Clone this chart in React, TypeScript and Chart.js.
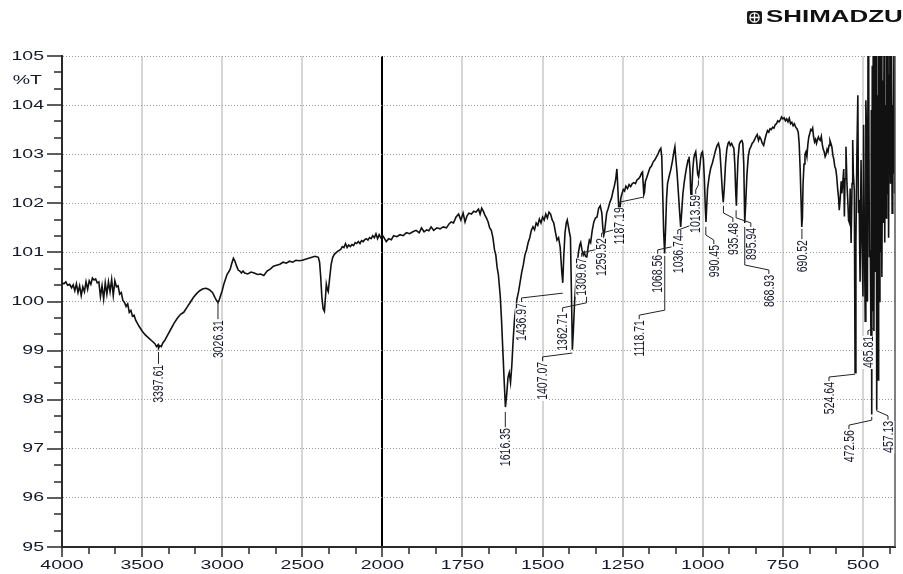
import React, { useEffect, useRef } from 'react';
import { Chart, registerables, LinearScale } from 'chart.js';

// ---------- DATA ----------
// [wavenumber (1/cm), %T]
const spectrum4000to2000: [number, number][] = [
  [4000, 100.38], [3988, 100.36], [3976, 100.40], [3965, 100.33], [3952, 100.35], [3940, 100.28],
  [3930, 100.34], [3920, 100.22], [3910, 100.36], [3900, 100.18], [3890, 100.32], [3880, 100.12],
  [3870, 100.30], [3860, 100.20], [3850, 100.40], [3840, 100.25], [3830, 100.42], [3820, 100.35],
  [3810, 100.48], [3800, 100.44], [3790, 100.46], [3780, 100.38], [3770, 100.40], [3760, 100.10],
  [3750, 100.32], [3740, 100.05], [3730, 100.38], [3720, 100.15], [3710, 100.40], [3700, 100.20],
  [3690, 100.45], [3680, 100.12], [3670, 100.42], [3660, 100.30], [3650, 100.32], [3640, 100.15],
  [3630, 100.18], [3620, 100.02], [3610, 99.98], [3600, 99.90], [3590, 99.95], [3580, 99.78],
  [3570, 99.82], [3560, 99.70], [3550, 99.72], [3540, 99.62], [3520, 99.50], [3500, 99.40],
  [3480, 99.32], [3460, 99.26], [3440, 99.20], [3420, 99.14], [3410, 99.08], [3400, 99.12],
  [3397, 99.05], [3390, 99.10], [3380, 99.08], [3370, 99.16], [3360, 99.20], [3340, 99.32],
  [3320, 99.44], [3300, 99.56], [3280, 99.66], [3260, 99.74], [3240, 99.78], [3220, 99.88],
  [3200, 99.98], [3180, 100.08], [3160, 100.16], [3140, 100.22], [3120, 100.26], [3100, 100.27],
  [3080, 100.24], [3060, 100.18], [3045, 100.08], [3035, 100.02], [3026, 99.98], [3018, 100.04],
  [3010, 100.12], [3000, 100.22], [2990, 100.35], [2980, 100.45], [2970, 100.55], [2960, 100.60],
  [2950, 100.66], [2940, 100.78], [2930, 100.88], [2920, 100.82], [2910, 100.72], [2900, 100.64],
  [2890, 100.62], [2880, 100.58], [2870, 100.62], [2860, 100.58], [2840, 100.56], [2820, 100.60],
  [2800, 100.58], [2780, 100.55], [2760, 100.56], [2740, 100.53], [2720, 100.62], [2700, 100.66],
  [2680, 100.72], [2660, 100.74], [2640, 100.76], [2620, 100.80], [2600, 100.78], [2580, 100.82],
  [2560, 100.80], [2540, 100.84], [2520, 100.83], [2500, 100.84], [2480, 100.86], [2460, 100.88],
  [2440, 100.90], [2420, 100.92], [2400, 100.90], [2392, 100.80], [2385, 100.50], [2378, 100.10],
  [2370, 99.85], [2362, 99.80], [2356, 100.05], [2350, 100.35], [2344, 100.25], [2338, 100.20],
  [2330, 100.45], [2320, 100.75], [2310, 100.90], [2300, 100.96], [2280, 101.02], [2260, 101.06],
  [2250, 101.12], [2240, 101.10], [2230, 101.18], [2220, 101.10], [2210, 101.15], [2200, 101.12],
  [2190, 101.16], [2180, 101.14], [2170, 101.20], [2160, 101.18], [2150, 101.22], [2140, 101.18],
  [2130, 101.24], [2120, 101.22], [2110, 101.26], [2100, 101.28], [2090, 101.25], [2080, 101.30],
  [2070, 101.28], [2060, 101.34], [2050, 101.30], [2040, 101.38], [2030, 101.28], [2020, 101.36],
  [2010, 101.30], [2000, 101.35],
];

const spectrum2000to1000: [number, number][] = [
  [1995, 101.30], [1988, 101.22], [1980, 101.28], [1972, 101.26], [1965, 101.34], [1955, 101.32],
  [1945, 101.36], [1935, 101.34], [1925, 101.40], [1915, 101.38], [1905, 101.42], [1895, 101.45],
  [1885, 101.40], [1878, 101.50], [1870, 101.42], [1862, 101.46], [1855, 101.44], [1848, 101.52],
  [1840, 101.45], [1830, 101.50], [1820, 101.48], [1810, 101.52], [1800, 101.50], [1792, 101.58],
  [1785, 101.62], [1778, 101.60], [1770, 101.72], [1762, 101.78], [1755, 101.66], [1748, 101.80],
  [1742, 101.62], [1736, 101.74], [1730, 101.80], [1722, 101.78], [1715, 101.84], [1708, 101.82],
  [1700, 101.88], [1695, 101.78], [1690, 101.90], [1685, 101.84], [1680, 101.76], [1675, 101.70],
  [1670, 101.62], [1665, 101.50], [1660, 101.45], [1655, 101.30], [1650, 101.05], [1646, 100.95],
  [1642, 100.70], [1638, 100.55], [1632, 100.10], [1628, 99.60], [1624, 99.00], [1620, 98.40],
  [1616, 97.85], [1612, 98.10], [1608, 98.45], [1604, 98.55], [1600, 98.35], [1596, 98.70],
  [1592, 99.20], [1588, 99.60], [1584, 99.85], [1580, 100.05], [1575, 100.20], [1570, 100.40],
  [1565, 100.60], [1560, 100.75], [1555, 100.95], [1550, 101.05], [1545, 101.20], [1540, 101.30],
  [1535, 101.45], [1530, 101.52], [1525, 101.46], [1520, 101.60], [1515, 101.55], [1510, 101.68],
  [1505, 101.60], [1500, 101.72], [1495, 101.66], [1490, 101.78], [1485, 101.70], [1480, 101.82],
  [1475, 101.78], [1470, 101.66], [1465, 101.60], [1460, 101.42], [1455, 101.25], [1450, 101.30],
  [1445, 101.10], [1440, 100.60], [1437, 100.38], [1434, 100.90], [1430, 101.40], [1426, 101.60],
  [1423, 101.66], [1420, 101.55], [1416, 101.40], [1413, 101.30], [1410, 100.20], [1407, 99.02],
  [1404, 99.40], [1400, 100.00], [1397, 100.30], [1393, 100.70], [1388, 101.00], [1384, 101.15],
  [1381, 101.20], [1377, 101.05], [1373, 100.95], [1370, 101.00], [1366, 100.92], [1362, 100.90],
  [1358, 101.10], [1354, 101.25], [1350, 101.20], [1345, 101.45], [1340, 101.62], [1335, 101.70],
  [1330, 101.72], [1325, 101.90], [1320, 101.95], [1315, 101.80], [1312, 101.50], [1309, 101.35],
  [1306, 101.45], [1300, 101.80], [1295, 101.90], [1290, 102.02], [1285, 102.10], [1280, 102.25],
  [1276, 102.35], [1272, 102.48], [1268, 102.70], [1265, 102.30], [1262, 101.85], [1259, 101.80],
  [1256, 102.10], [1252, 102.20], [1248, 102.28], [1244, 102.25], [1240, 102.35], [1235, 102.30],
  [1230, 102.38], [1225, 102.34], [1220, 102.40], [1215, 102.42], [1210, 102.40], [1205, 102.48],
  [1200, 102.50], [1195, 102.55], [1191, 102.62], [1188, 102.64], [1186, 102.40], [1184, 102.18],
  [1182, 102.22], [1179, 102.45], [1175, 102.52], [1170, 102.62], [1165, 102.72], [1160, 102.76],
  [1155, 102.84], [1150, 102.88], [1145, 102.94], [1140, 103.00], [1135, 103.08], [1131, 103.12],
  [1128, 102.95], [1125, 102.20], [1122, 101.40], [1119, 100.98], [1116, 101.50], [1113, 102.10],
  [1110, 102.40], [1105, 102.55], [1100, 102.68], [1095, 102.85], [1090, 103.05], [1087, 103.15],
  [1084, 102.90], [1080, 102.60], [1076, 102.20], [1072, 101.80], [1069, 101.52], [1066, 101.80],
  [1062, 102.20], [1058, 102.42], [1054, 102.60], [1050, 102.75], [1046, 102.88], [1043, 102.95],
  [1040, 102.70], [1038, 102.30], [1036, 102.07], [1034, 102.30], [1031, 102.70], [1028, 102.92],
  [1025, 103.00], [1022, 103.05], [1019, 102.85], [1016, 102.60], [1013, 102.54], [1010, 102.70],
  [1007, 102.90], [1004, 103.02], [1001, 103.05],
];

const spectrum1000to400: [number, number][] = [
  [998, 102.90], [995, 102.50], [992, 101.90], [990, 101.62], [988, 101.90], [985, 102.30],
  [980, 102.55], [975, 102.72], [970, 102.82], [965, 102.95], [960, 103.08], [955, 103.18],
  [951, 103.22], [947, 103.10], [943, 102.70], [939, 102.25], [936, 102.02], [933, 102.30],
  [929, 102.80], [925, 103.10], [921, 103.22], [918, 103.25], [914, 103.18], [910, 103.22],
  [906, 103.16], [903, 103.12], [900, 102.80], [897, 102.20], [895, 101.95], [893, 102.40],
  [890, 102.90], [886, 103.20], [882, 103.26], [878, 103.28], [875, 103.22], [872, 102.80],
  [869, 101.60], [866, 102.00], [862, 102.60], [858, 102.95], [854, 103.10], [850, 103.15],
  [846, 103.22], [842, 103.25], [838, 103.30], [834, 103.36], [830, 103.40], [826, 103.28],
  [822, 103.35], [818, 103.30], [814, 103.22], [810, 103.18], [806, 103.30], [802, 103.40],
  [798, 103.48], [794, 103.45], [790, 103.52], [786, 103.50], [782, 103.55], [778, 103.53],
  [774, 103.60], [770, 103.62], [766, 103.68], [762, 103.66], [758, 103.70], [754, 103.76],
  [750, 103.72], [746, 103.74], [742, 103.68], [738, 103.72], [734, 103.66], [730, 103.73],
  [726, 103.62], [722, 103.65], [718, 103.58], [714, 103.62], [710, 103.55], [706, 103.52],
  [702, 103.45], [699, 103.20], [696, 102.70], [693, 102.00], [691, 101.52], [689, 101.70],
  [687, 102.40], [684, 102.80], [681, 103.00], [678, 103.05], [675, 102.95], [672, 103.20],
  [669, 103.35], [666, 103.42], [663, 103.50], [660, 103.48], [657, 103.53], [654, 103.35],
  [651, 103.25], [648, 103.30], [645, 103.22], [642, 103.30], [639, 103.35], [636, 103.30],
  [633, 103.28], [630, 103.36], [627, 103.20], [624, 103.10], [621, 103.05], [618, 102.95],
  [615, 103.00], [612, 103.10], [609, 103.05], [606, 103.18], [603, 103.28], [600, 103.22],
  [597, 103.15], [594, 102.98], [591, 102.90], [588, 102.75], [585, 102.70], [582, 102.55],
  [579, 102.30], [576, 102.10], [574, 101.86], [571, 102.10], [568, 102.45], [566, 102.20],
  [563, 102.41], [560, 102.70], [558, 101.73], [556, 102.50], [553, 103.15], [550, 102.40],
  [547, 102.00], [545, 101.66], [542, 101.60], [540, 102.30], [537, 101.19], [534, 102.40],
  [532, 103.29], [530, 102.60], [527, 102.27], [524.6, 98.55], [522, 101.20], [519, 103.00],
  [516, 104.20], [514, 101.80], [512, 102.07], [509, 100.40], [506, 102.88], [503, 101.20],
  [500, 100.10], [498, 103.60], [496, 101.73], [493, 99.60], [491, 104.10], [489, 103.49],
  [486, 100.00], [484, 105.80], [482, 104.58], [480, 100.90], [477, 101.05], [475, 99.20],
  [474, 103.90], [472.6, 97.70], [471, 104.80], [469, 99.80], [468, 105.60], [465.8, 99.40],
  [463, 105.80], [461, 100.60], [459, 105.80], [457.1, 97.80], [455, 104.20], [453, 98.40],
  [451, 105.80], [449, 100.00], [447, 105.80], [445, 101.00], [443, 105.20], [441, 100.50],
  [438, 104.50], [436, 101.60], [434, 105.80], [432, 101.20], [430, 104.00], [428, 101.70],
  [426, 105.80], [424, 102.20], [422, 105.80], [420, 101.30], [418, 104.60], [416, 105.80],
  [414, 102.40], [411, 105.80], [409, 101.80], [407, 104.00], [405, 102.60], [403, 105.80],
  [401, 102.20], [400, 105.80],
];

const xMajorTicks = [4000, 3500, 3000, 2500, 2000, 1750, 1500, 1250, 1000, 750, 500];
const xMinorTicks = [
  3833.33, 3666.67, 3333.33, 3166.67, 2833.33, 2666.67, 2333.33, 2166.67,
  1916.67, 1833.33, 1666.67, 1583.33, 1416.67, 1333.33, 1166.67, 1083.33,
  916.67, 833.33, 666.67, 583.33, 416.67,
];
const yMajorTicks = [95, 96, 97, 98, 99, 100, 101, 102, 103, 104, 105];

// Peak annotations
const peakLabels = [
  '3397.61', '3026.31', '1616.35', '1436.97', '1407.07', '1362.71', '1309.67', '1259.52',
  '1187.19', '1118.71', '1068.56', '1036.74', '1013.59', '990.45', '935.48', '895.94',
  '868.93', '690.52', '524.64', '472.56', '465.81', '457.13',
];
const peakWavenumbers = [
  3397.61, 3026.31, 1616.35, 1436.97, 1407.07, 1362.71, 1309.67, 1259.52,
  1187.19, 1118.71, 1068.56, 1036.74, 1013.59, 990.45, 935.48, 895.94,
  868.93, 690.52, 524.64, 472.56, 465.81, 457.13,
];
const peakTipT = [
  98.97, 99.97, 97.75, 100.17, 98.95, 100.80, 101.25, 101.74,
  102.13, 100.93, 101.46, 102.0, 102.47, 101.52, 101.95, 101.86,
  101.52, 101.48, 98.52, 97.65, 99.46, 97.83,
];
const labelWavenumbers = [
  3397.61, 3026.31, 1616.35, 1565.6, 1500, 1437.5, 1378, 1315.6,
  1260.9, 1198.4, 1140.6, 1078, 1021.9, 965.6, 906, 850,
  793.75, 690.52, 606, 543.75, 484.4, 421.9,
];
const labelTopT = [
  98.71, 99.62, 97.42, 99.97, 98.77, 99.77, 100.89, 101.29,
  101.92, 99.62, 100.95, 101.35, 102.17, 101.15, 101.6, 101.5,
  100.54, 101.25, 98.36, 97.38, 99.30, 97.57,
];

const yAxisUnit = '%T';
const brandName = 'SHIMADZU';

// ---------- SCALE ----------
// Shimadzu split abscissa: 4000-2000 at half the scale of 2000-400
const toUnit = (v: number) => (v >= 2000 ? (4000 - v) / 2 : 1000 + (2000 - v));
const fromUnit = (u: number) => (u <= 1000 ? 4000 - 2 * u : 2000 - (u - 1000));

class SplitWavenumberScale extends LinearScale {
  static id = 'splitWavenumber';
  static defaults = { ...(LinearScale as any).defaults };
  getPixelForValue(value: number) {
    const a = toUnit(this.max);
    const b = toUnit(this.min);
    const d = (toUnit(value) - a) / (b - a);
    return this.left + d * this.width;
  }
  getValueForPixel(pixel: number) {
    const a = toUnit(this.max);
    const b = toUnit(this.min);
    return fromUnit(a + ((pixel - this.left) / this.width) * (b - a));
  }
}

Chart.register(...registerables, SplitWavenumberScale as any);

const TEXT = '#15182a';
const FONT = '"Liberation Sans", Arial, sans-serif';

function stretchedText(ctx: CanvasRenderingContext2D, text: string, x: number, y: number, align: CanvasTextAlign, font: string, sx: number) {
  ctx.save();
  ctx.translate(x, y);
  ctx.scale(sx, 1);
  ctx.font = font;
  ctx.textAlign = align;
  ctx.textBaseline = 'middle';
  ctx.fillStyle = TEXT;
  ctx.fillText(text, 0, 0);
  ctx.restore();
}

const decorPlugin = {
  id: 'ftirDecor',
  afterDraw(chart: any) {
    const ctx: CanvasRenderingContext2D = chart.ctx;
    const xs = chart.scales.x;
    const ys = chart.scales.y;
    const { left, right, top, bottom } = chart.chartArea;
    ctx.save();

    // right frame
    ctx.strokeStyle = '#555';
    ctx.lineWidth = 1.5;
    ctx.beginPath();
    ctx.moveTo(right, top);
    ctx.lineTo(right, bottom);
    ctx.stroke();

    // tick marks
    ctx.strokeStyle = '#2a2a2a';
    ctx.lineWidth = 1.5;
    ctx.beginPath();
    xMajorTicks.forEach((v) => {
      const x = Math.round(xs.getPixelForValue(v));
      ctx.moveTo(x, bottom);
      ctx.lineTo(x, bottom + 10);
    });
    xMinorTicks.forEach((v) => {
      const x = Math.round(xs.getPixelForValue(v));
      ctx.moveTo(x, bottom);
      ctx.lineTo(x, bottom + 7);
    });
    yMajorTicks.forEach((v) => {
      const y = Math.round(ys.getPixelForValue(v));
      ctx.moveTo(left - 15, y);
      ctx.lineTo(left, y);
    });
    for (let v = 95; v < 105; v++) {
      [1 / 3, 2 / 3].forEach((f) => {
        const y = Math.round(ys.getPixelForValue(v + f));
        ctx.moveTo(left - 8, y);
        ctx.lineTo(left, y);
      });
    }
    ctx.stroke();

    // tick labels
    const tickFont = `13px ${FONT}`;
    yMajorTicks.forEach((v) => {
      stretchedText(ctx, String(v), 44, ys.getPixelForValue(v), 'right', tickFont, 1.5);
    });
    stretchedText(ctx, yAxisUnit, 42, 80, 'right', tickFont, 1.5);
    xMajorTicks.forEach((v) => {
      stretchedText(ctx, String(v), xs.getPixelForValue(v), bottom + 18, 'center', tickFont, 1.5);
    });

    // peak labels
    peakLabels.forEach((label, i) => {
      const px = xs.getPixelForValue(peakWavenumbers[i]);
      const tipY = ys.getPixelForValue(peakTipT[i]);
      const tx = xs.getPixelForValue(labelWavenumbers[i]);
      const ty = ys.getPixelForValue(labelTopT[i]);
      ctx.strokeStyle = '#222';
      ctx.lineWidth = 1;
      ctx.beginPath();
      ctx.moveTo(px, tipY);
      if (Math.abs(tx - px) < 1) {
        ctx.lineTo(px, ty - 1);
      } else {
        const e1 = Math.max(tipY, ty - 10);
        ctx.lineTo(px, e1);
        ctx.lineTo(tx, Math.max(e1 + 2, ty - 5));
        ctx.lineTo(tx, ty - 1);
      }
      ctx.stroke();

      ctx.save();
      ctx.translate(tx, ty);
      ctx.rotate(-Math.PI / 2);
      ctx.scale(1, 1.4);
      ctx.font = `10.5px ${FONT}`;
      const w = ctx.measureText(label).width;
      ctx.fillStyle = '#ffffff';
      ctx.fillRect(-w - 1, -4.5, w + 1, 9);
      ctx.fillStyle = TEXT;
      ctx.textAlign = 'right';
      ctx.textBaseline = 'middle';
      ctx.fillText(label, 0, 0.5);
      ctx.restore();
    });

    // brand logo
    ctx.fillStyle = '#1a1a1a';
    const lx = 747, ly = 11;
    ctx.beginPath();
    if ((ctx as any).roundRect) (ctx as any).roundRect(lx, ly, 15, 13, 2);
    else ctx.rect(lx, ly, 15, 13);
    ctx.fill();
    ctx.strokeStyle = '#ffffff';
    ctx.lineWidth = 1.3;
    ctx.beginPath();
    ctx.arc(lx + 7.5, ly + 6.5, 4.6, 0, Math.PI * 2);
    ctx.moveTo(lx + 7.5, ly + 1.9);
    ctx.lineTo(lx + 7.5, ly + 11.1);
    ctx.moveTo(lx + 2.9, ly + 6.5);
    ctx.lineTo(lx + 12.1, ly + 6.5);
    ctx.stroke();
    ctx.save();
    ctx.translate(766, 18);
    ctx.scale(1.62, 1);
    ctx.font = `bold 16px ${FONT}`;
    ctx.textAlign = 'left';
    ctx.textBaseline = 'middle';
    ctx.fillStyle = '#111';
    ctx.fillText(brandName, 0, 0);
    ctx.restore();

    ctx.restore();
  },
};

export default function App() {
  const canvasRef = useRef<HTMLCanvasElement | null>(null);

  useEffect(() => {
    if (!canvasRef.current) return;
    const data = [...spectrum4000to2000, ...spectrum2000to1000, ...spectrum1000to400].map(([x, y]) => ({ x, y }));
    const chart = new Chart(canvasRef.current, {
      type: 'line',
      data: {
        datasets: [
          {
            data,
            borderColor: '#111111',
            borderWidth: 1.6,
            pointRadius: 0,
            tension: 0,
            fill: false,
          },
        ],
      },
      options: {
        animation: false,
        responsive: false,
        devicePixelRatio: 1,
        parsing: false as any,
        normalized: true,
        layout: { padding: { left: 62, right: 8, top: 56, bottom: 27 } },
        plugins: { legend: { display: false }, tooltip: { enabled: false } },
        scales: {
          x: {
            type: 'splitWavenumber' as any,
            min: 400,
            max: 4000,
            afterBuildTicks: (scale: any) => {
              scale.ticks = xMajorTicks.map((v) => ({ value: v }));
            },
            ticks: { display: false },
            grid: {
              drawTicks: false,
              color: (c: any) => {
                const v = c.tick && c.tick.value;
                if (v === 2000) return '#000000';
                if (v === 4000) return 'rgba(0,0,0,0)';
                return '#d6d6d6';
              },
              lineWidth: 2,
            },
            border: { display: true, color: '#2a2a2a', width: 2 },
          } as any,
          y: {
            type: 'linear',
            min: 95,
            max: 105,
            ticks: { display: false, stepSize: 1 },
            grid: { drawTicks: false, color: '#9a9a9a', lineWidth: 1 },
            border: { display: true, color: '#2a2a2a', width: 2, dash: [1, 2] },
          } as any,
        },
      },
      plugins: [decorPlugin],
    } as any);
    return () => chart.destroy();
  }, []);

  return (
    <div style={{ position: 'absolute', left: 0, top: 0, width: 903, height: 574, background: '#fff' }}>
      <canvas ref={canvasRef} width={903} height={574} style={{ display: 'block' }} />
    </div>
  );
}
